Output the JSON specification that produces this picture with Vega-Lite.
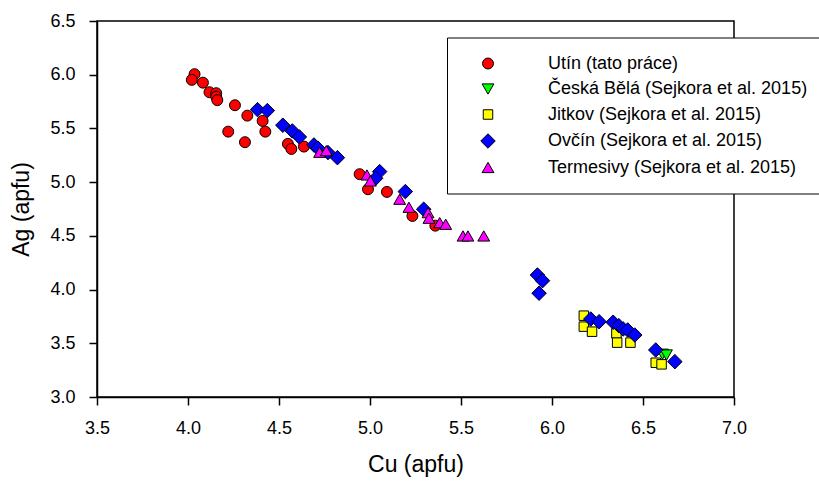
{
  "$schema": "https://vega.github.io/schema/vega-lite/v6.json",
  "width": 637,
  "height": 376,
  "autosize": "none",
  "padding": {"left": 97, "top": 21, "right": 85, "bottom": 84},
  "background": "white",
  "config": {
    "font": "Liberation Sans",
    "view": {"stroke": "black", "strokeWidth": 1.5},
    "axis": {
      "grid": false,
      "domainColor": "black",
      "domainWidth": 1.5,
      "tickColor": "black",
      "tickWidth": 1.5,
      "tickSize": 8,
      "labelColor": "black",
      "labelFontSize": 18,
      "labelFont": "Liberation Sans",
      "labelFlush": false,
      "labelOverlap": false,
      "titleColor": "black",
      "titleFont": "Liberation Sans",
      "titleFontSize": 23,
      "titleFontWeight": "normal"
    }
  },
  "data": {
    "values": [
      {"site": "Utín (tato práce)", "cu": 4.036, "ag": 6.005},
      {"site": "Utín (tato práce)", "cu": 4.021, "ag": 5.952},
      {"site": "Utín (tato práce)", "cu": 4.082, "ag": 5.926},
      {"site": "Utín (tato práce)", "cu": 4.118, "ag": 5.837},
      {"site": "Utín (tato práce)", "cu": 4.155, "ag": 5.828},
      {"site": "Utín (tato práce)", "cu": 4.155, "ag": 5.796},
      {"site": "Utín (tato práce)", "cu": 4.161, "ag": 5.763},
      {"site": "Utín (tato práce)", "cu": 4.258, "ag": 5.716},
      {"site": "Utín (tato práce)", "cu": 4.326, "ag": 5.619},
      {"site": "Utín (tato práce)", "cu": 4.41, "ag": 5.57},
      {"site": "Utín (tato práce)", "cu": 4.221, "ag": 5.47},
      {"site": "Utín (tato práce)", "cu": 4.425, "ag": 5.47},
      {"site": "Utín (tato práce)", "cu": 4.313, "ag": 5.372},
      {"site": "Utín (tato práce)", "cu": 4.549, "ag": 5.356},
      {"site": "Utín (tato práce)", "cu": 4.568, "ag": 5.309},
      {"site": "Utín (tato práce)", "cu": 4.637, "ag": 5.331},
      {"site": "Utín (tato práce)", "cu": 4.943, "ag": 5.074},
      {"site": "Utín (tato práce)", "cu": 4.989, "ag": 4.934},
      {"site": "Utín (tato práce)", "cu": 5.093, "ag": 4.909},
      {"site": "Utín (tato práce)", "cu": 5.233, "ag": 4.685},
      {"site": "Utín (tato práce)", "cu": 5.359, "ag": 4.595},
      {"site": "Česká Bělá (Sejkora et al. 2015)", "cu": 6.607, "ag": 3.398},
      {"site": "Česká Bělá (Sejkora et al. 2015)", "cu": 6.629, "ag": 3.391},
      {"site": "Jitkov (Sejkora et al. 2015)", "cu": 6.175, "ag": 3.757},
      {"site": "Jitkov (Sejkora et al. 2015)", "cu": 6.175, "ag": 3.655},
      {"site": "Jitkov (Sejkora et al. 2015)", "cu": 6.22, "ag": 3.608},
      {"site": "Jitkov (Sejkora et al. 2015)", "cu": 6.354, "ag": 3.593},
      {"site": "Jitkov (Sejkora et al. 2015)", "cu": 6.358, "ag": 3.506},
      {"site": "Jitkov (Sejkora et al. 2015)", "cu": 6.431, "ag": 3.506},
      {"site": "Jitkov (Sejkora et al. 2015)", "cu": 6.57, "ag": 3.319},
      {"site": "Jitkov (Sejkora et al. 2015)", "cu": 6.602, "ag": 3.304},
      {"site": "Ovčín (Sejkora et al. 2015)", "cu": 4.382, "ag": 5.675},
      {"site": "Ovčín (Sejkora et al. 2015)", "cu": 4.436, "ag": 5.666},
      {"site": "Ovčín (Sejkora et al. 2015)", "cu": 4.521, "ag": 5.53},
      {"site": "Ovčín (Sejkora et al. 2015)", "cu": 4.573, "ag": 5.477},
      {"site": "Ovčín (Sejkora et al. 2015)", "cu": 4.612, "ag": 5.421},
      {"site": "Ovčín (Sejkora et al. 2015)", "cu": 4.692, "ag": 5.346},
      {"site": "Ovčín (Sejkora et al. 2015)", "cu": 4.714, "ag": 5.316},
      {"site": "Ovčín (Sejkora et al. 2015)", "cu": 4.769, "ag": 5.275},
      {"site": "Ovčín (Sejkora et al. 2015)", "cu": 4.821, "ag": 5.228},
      {"site": "Ovčín (Sejkora et al. 2015)", "cu": 5.053, "ag": 5.098},
      {"site": "Ovčín (Sejkora et al. 2015)", "cu": 5.031, "ag": 5.036},
      {"site": "Ovčín (Sejkora et al. 2015)", "cu": 5.194, "ag": 4.912},
      {"site": "Ovčín (Sejkora et al. 2015)", "cu": 5.295, "ag": 4.748},
      {"site": "Ovčín (Sejkora et al. 2015)", "cu": 5.92, "ag": 4.136},
      {"site": "Ovčín (Sejkora et al. 2015)", "cu": 5.948, "ag": 4.083},
      {"site": "Ovčín (Sejkora et al. 2015)", "cu": 5.929, "ag": 3.966},
      {"site": "Ovčín (Sejkora et al. 2015)", "cu": 6.213, "ag": 3.726},
      {"site": "Ovčín (Sejkora et al. 2015)", "cu": 6.259, "ag": 3.701},
      {"site": "Ovčín (Sejkora et al. 2015)", "cu": 6.336, "ag": 3.696},
      {"site": "Ovčín (Sejkora et al. 2015)", "cu": 6.367, "ag": 3.664},
      {"site": "Ovčín (Sejkora et al. 2015)", "cu": 6.391, "ag": 3.633},
      {"site": "Ovčín (Sejkora et al. 2015)", "cu": 6.416, "ag": 3.624},
      {"site": "Ovčín (Sejkora et al. 2015)", "cu": 6.455, "ag": 3.577},
      {"site": "Ovčín (Sejkora et al. 2015)", "cu": 6.57, "ag": 3.438},
      {"site": "Ovčín (Sejkora et al. 2015)", "cu": 6.675, "ag": 3.329},
      {"site": "Termesivy (Sejkora et al. 2015)", "cu": 4.723, "ag": 5.278},
      {"site": "Termesivy (Sejkora et al. 2015)", "cu": 4.76, "ag": 5.293},
      {"site": "Termesivy (Sejkora et al. 2015)", "cu": 4.983, "ag": 5.067},
      {"site": "Termesivy (Sejkora et al. 2015)", "cu": 5.002, "ag": 5.011},
      {"site": "Termesivy (Sejkora et al. 2015)", "cu": 5.163, "ag": 4.841},
      {"site": "Termesivy (Sejkora et al. 2015)", "cu": 5.214, "ag": 4.766},
      {"site": "Termesivy (Sejkora et al. 2015)", "cu": 5.319, "ag": 4.716},
      {"site": "Termesivy (Sejkora et al. 2015)", "cu": 5.324, "ag": 4.664},
      {"site": "Termesivy (Sejkora et al. 2015)", "cu": 5.383, "ag": 4.623},
      {"site": "Termesivy (Sejkora et al. 2015)", "cu": 5.416, "ag": 4.608},
      {"site": "Termesivy (Sejkora et al. 2015)", "cu": 5.511, "ag": 4.499},
      {"site": "Termesivy (Sejkora et al. 2015)", "cu": 5.538, "ag": 4.499},
      {"site": "Termesivy (Sejkora et al. 2015)", "cu": 5.625, "ag": 4.499}
    ]
  },
  "mark": {"type": "point", "filled": true, "opacity": 1, "stroke": "black", "strokeWidth": 1},
  "encoding": {
    "x": {
      "field": "cu", "type": "quantitative",
      "scale": {"domain": [3.5, 7.0], "nice": false, "zero": false},
      "axis": {"title": "Cu (apfu)", "values": [3.5, 4.0, 4.5, 5.0, 5.5, 6.0, 6.5, 7.0], "format": ".1f", "labelPadding": 14, "titlePadding": 16}
    },
    "y": {
      "field": "ag", "type": "quantitative",
      "scale": {"domain": [3.0, 6.5], "nice": false, "zero": false},
      "axis": {"title": "Ag (apfu)", "values": [3.0, 3.5, 4.0, 4.5, 5.0, 5.5, 6.0, 6.5], "format": ".1f", "labelPadding": 14, "titlePadding": 16}
    },
    "color": {
      "field": "site", "type": "nominal",
      "scale": {
        "domain": ["Utín (tato práce)", "Česká Bělá (Sejkora et al. 2015)", "Jitkov (Sejkora et al. 2015)", "Ovčín (Sejkora et al. 2015)", "Termesivy (Sejkora et al. 2015)"],
        "range": ["#ff0000", "#00ff00", "#ffff00", "#0000ff", "#ff00ff"]
      },
      "legend": {
        "title": null,
        "orient": "none",
        "legendX": 350,
        "legendY": 16.5,
        "fillColor": "white",
        "strokeColor": "black",
        "padding": 17,
        "symbolOffset": 15,
        "labelOffset": 51,
        "labelFontSize": 18,
        "labelColor": "black",
        "labelLimit": 400,
        "rowPadding": 7.5,
        "symbolSize": 80,
        "symbolStrokeColor": "black",
        "symbolStrokeWidth": 1,
        "encode": {"legend": {"update": {"strokeWidth": {"value": 1.5}}}}
      }
    },
    "shape": {
      "field": "site", "type": "nominal",
      "scale": {
        "domain": ["Utín (tato práce)", "Česká Bělá (Sejkora et al. 2015)", "Jitkov (Sejkora et al. 2015)", "Ovčín (Sejkora et al. 2015)", "Termesivy (Sejkora et al. 2015)"],
        "range": ["circle", "triangle-down", "square", "diamond", "triangle-up"]
      }
    },
    "size": {
      "field": "site", "type": "nominal",
      "scale": {
        "type": "ordinal",
        "domain": ["Utín (tato práce)", "Česká Bělá (Sejkora et al. 2015)", "Jitkov (Sejkora et al. 2015)", "Ovčín (Sejkora et al. 2015)", "Termesivy (Sejkora et al. 2015)"],
        "range": [120, 140, 90, 210, 140]
      },
      "legend": null
    }
  }
}
